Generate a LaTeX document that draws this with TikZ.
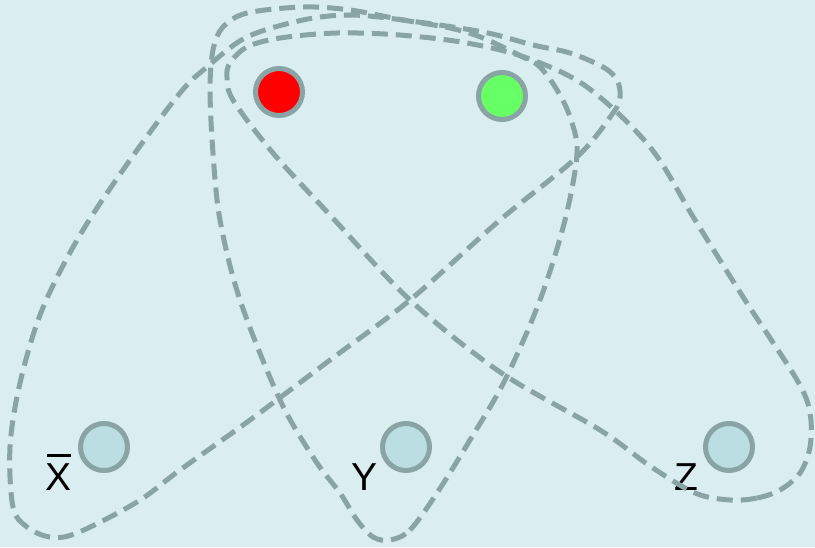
\documentclass[tikz,border=0pt]{standalone}
\usepackage{fontspec}
\setmainfont{Liberation Sans}
\definecolor{bgc}{RGB}{218,237,240}
\definecolor{edgec}{RGB}{138,164,166}
\definecolor{vfill}{RGB}{186,222,226}
\definecolor{redc}{RGB}{255,0,0}
\definecolor{greenc}{RGB}{102,255,102}
\begin{document}
\begin{tikzpicture}[x=1pt,y=-1pt,
  vert/.style={circle,draw=edgec,line width=5pt,inner sep=0pt,minimum size=47pt},
  lbl/.style={anchor=base,inner sep=0pt,font=\fontsize{39}{45}\selectfont},
  hedge/.style={draw=edgec,line width=5pt,dash pattern=on 16pt off 8pt,smooth cycle,tension=0.55}]
\fill[bgc] (0,0) rectangle (815,547);
\useasboundingbox (0,0) rectangle (815,547);
% labels
\node[lbl] (lx) at (59,490) {\makebox[0pt][l]{\hspace{0.03em}\raisebox{0.84em}{\rule{0.62em}{0.075em}}}X};
\node[lbl] (ly) at (365,490) {Y};
\node[lbl] (lz) at (686,490) {Z};
% hyperedge containing X
\draw[hedge] plot coordinates {(50,537) (27,527) (13,507) (10,447) (20,383) (42,310) (80,235) (130,160) (180,93) (207,67) (247,37) (303,20) (350,15) (403,20) (483,32) (533,45) (570,53) (603,67) (617,80) (620,97) (613,113) (577,157) (500,220) (410,300) (330,360) (250,420) (180,470) (137,502) (77,533)};
% hyperedge containing Y
\draw[hedge] plot coordinates {(390,540) (410,530) (437,493) (470,440) (505,380) (540,300) (565,220) (577,153) (570,117) (557,90) (540,67) (523,57) (483,38) (450,28) (403,20) (350,10) (303,7) (247,13) (223,27) (213,50) (210,90) (213,153) (220,220) (240,300) (280,400) (315,460) (340,493) (357,520) (373,537)};
% hyperedge containing Z
\draw[hedge] plot coordinates {(730,500) (757,498) (780,490) (800,473) (810,447) (810,413) (797,380) (745,300) (695,220) (650,147) (587,87) (527,58) (467,43) (400,35) (337,33) (280,38) (247,47) (230,63) (227,77) (233,100) (273,153) (330,215) (410,300) (500,372) (600,430) (650,466) (695,493)};
% vertices
\node[vert,fill=redc] (r) at (279,92) {};
\node[vert,fill=greenc] (g) at (502,96) {};
\node[vert,fill=vfill] (x) at (104,447) {};
\node[vert,fill=vfill] (y) at (406,447) {};
\node[vert,fill=vfill] (z) at (729,447) {};
\end{tikzpicture}
\end{document}
